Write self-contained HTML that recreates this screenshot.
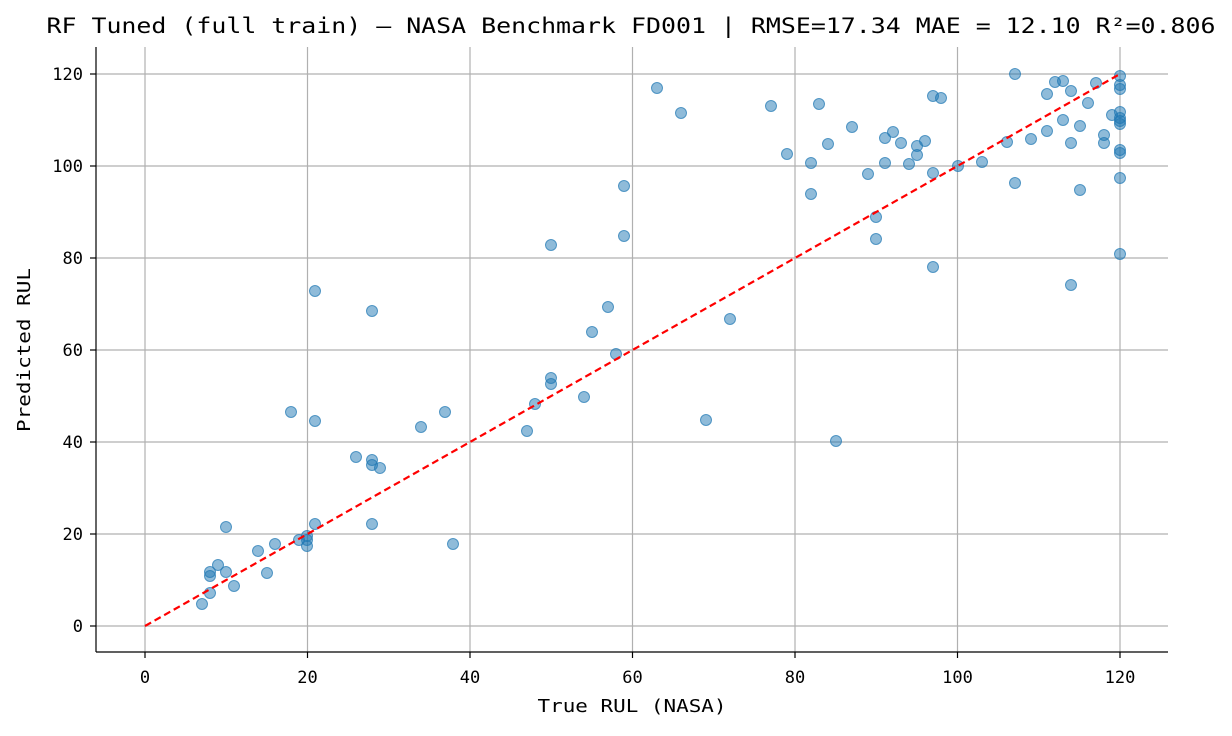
<!DOCTYPE html>
<html><head><meta charset="utf-8"><style>body{margin:0;background:#fff}</style></head><body>
<svg width="1232" height="731" xmlns="http://www.w3.org/2000/svg" font-family="'DejaVu Sans Mono','Liberation Mono',monospace">
<rect width="1232" height="731" fill="#fff"/>
<text x="631" y="33" font-size="21" text-anchor="middle" fill="#000" textLength="1169" lengthAdjust="spacingAndGlyphs">RF Tuned (full train) — NASA Benchmark FD001 | RMSE=17.34 MAE = 12.10 R²=0.806</text>
<g stroke="#b0b0b0" stroke-width="1.2">
<line x1="145" y1="47" x2="145" y2="652"/><line x1="307.5" y1="47" x2="307.5" y2="652"/><line x1="470" y1="47" x2="470" y2="652"/><line x1="632.5" y1="47" x2="632.5" y2="652"/><line x1="795" y1="47" x2="795" y2="652"/><line x1="957.5" y1="47" x2="957.5" y2="652"/><line x1="1120" y1="47" x2="1120" y2="652"/>
<line x1="96" y1="626" x2="1168" y2="626"/><line x1="96" y1="534" x2="1168" y2="534"/><line x1="96" y1="442" x2="1168" y2="442"/><line x1="96" y1="350" x2="1168" y2="350"/><line x1="96" y1="258" x2="1168" y2="258"/><line x1="96" y1="166" x2="1168" y2="166"/><line x1="96" y1="74" x2="1168" y2="74"/>
</g>
<g id="pts" fill="#1f77b4" fill-opacity="0.5" stroke="#1f77b4" stroke-width="1" stroke-opacity="0.7">
<circle cx="202" cy="604" r="5.5"/><circle cx="210" cy="572" r="5.5"/><circle cx="210" cy="576" r="5.5"/><circle cx="218" cy="565" r="5.5"/><circle cx="226" cy="572" r="5.5"/><circle cx="234" cy="586" r="5.5"/><circle cx="210" cy="593" r="5.5"/><circle cx="226" cy="527" r="5.5"/><circle cx="258" cy="551" r="5.5"/><circle cx="267" cy="573" r="5.5"/><circle cx="275" cy="544" r="5.5"/><circle cx="299" cy="540" r="5.5"/><circle cx="307" cy="536" r="5.5"/><circle cx="307" cy="540" r="5.5"/><circle cx="307" cy="546" r="5.5"/><circle cx="315" cy="524" r="5.5"/><circle cx="315" cy="291" r="5.5"/><circle cx="291" cy="412" r="5.5"/><circle cx="315" cy="421" r="5.5"/><circle cx="356" cy="457" r="5.5"/><circle cx="372" cy="460" r="5.5"/><circle cx="372" cy="465" r="5.5"/><circle cx="380" cy="468" r="5.5"/><circle cx="372" cy="524" r="5.5"/><circle cx="372" cy="311" r="5.5"/><circle cx="421" cy="427" r="5.5"/><circle cx="445" cy="412" r="5.5"/><circle cx="453" cy="544" r="5.5"/><circle cx="527" cy="431" r="5.5"/><circle cx="535" cy="404" r="5.5"/><circle cx="551" cy="378" r="5.5"/><circle cx="551" cy="384" r="5.5"/><circle cx="551" cy="245" r="5.5"/><circle cx="584" cy="397" r="5.5"/><circle cx="592" cy="332" r="5.5"/><circle cx="608" cy="307" r="5.5"/><circle cx="616" cy="354" r="5.5"/><circle cx="624" cy="186" r="5.5"/><circle cx="624" cy="236" r="5.5"/><circle cx="657" cy="88" r="5.5"/><circle cx="681" cy="113" r="5.5"/><circle cx="706" cy="420" r="5.5"/><circle cx="730" cy="319" r="5.5"/><circle cx="771" cy="106" r="5.5"/><circle cx="787" cy="154" r="5.5"/><circle cx="811" cy="163" r="5.5"/><circle cx="811" cy="194" r="5.5"/><circle cx="819" cy="104" r="5.5"/><circle cx="828" cy="144" r="5.5"/><circle cx="836" cy="441" r="5.5"/><circle cx="852" cy="127" r="5.5"/><circle cx="868" cy="174" r="5.5"/><circle cx="876" cy="217" r="5.5"/><circle cx="876" cy="239" r="5.5"/><circle cx="885" cy="138" r="5.5"/><circle cx="885" cy="163" r="5.5"/><circle cx="893" cy="132" r="5.5"/><circle cx="901" cy="143" r="5.5"/><circle cx="909" cy="164" r="5.5"/><circle cx="917" cy="146" r="5.5"/><circle cx="917" cy="155" r="5.5"/><circle cx="925" cy="141" r="5.5"/><circle cx="933" cy="96" r="5.5"/><circle cx="933" cy="173" r="5.5"/><circle cx="933" cy="267" r="5.5"/><circle cx="941" cy="98" r="5.5"/><circle cx="958" cy="166" r="5.5"/><circle cx="982" cy="162" r="5.5"/><circle cx="1007" cy="142" r="5.5"/><circle cx="1015" cy="74" r="5.5"/><circle cx="1015" cy="183" r="5.5"/><circle cx="1031" cy="139" r="5.5"/><circle cx="1047" cy="94" r="5.5"/><circle cx="1047" cy="131" r="5.5"/><circle cx="1055" cy="82" r="5.5"/><circle cx="1063" cy="81" r="5.5"/><circle cx="1063" cy="120" r="5.5"/><circle cx="1071" cy="91" r="5.5"/><circle cx="1071" cy="143" r="5.5"/><circle cx="1071" cy="285" r="5.5"/><circle cx="1080" cy="126" r="5.5"/><circle cx="1080" cy="190" r="5.5"/><circle cx="1088" cy="103" r="5.5"/><circle cx="1096" cy="83" r="5.5"/><circle cx="1104" cy="135" r="5.5"/><circle cx="1104" cy="143" r="5.5"/><circle cx="1112" cy="115" r="5.5"/><circle cx="1120" cy="76" r="5.5"/><circle cx="1120" cy="85" r="5.5"/><circle cx="1120" cy="89" r="5.5"/><circle cx="1120" cy="112" r="5.5"/><circle cx="1120" cy="118" r="5.5"/><circle cx="1120" cy="121" r="5.5"/><circle cx="1120" cy="124" r="5.5"/><circle cx="1120" cy="150" r="5.5"/><circle cx="1120" cy="153" r="5.5"/><circle cx="1120" cy="178" r="5.5"/><circle cx="1120" cy="254" r="5.5"/>
</g>
<line x1="145" y1="626" x2="1120" y2="74" stroke="#ff0000" stroke-width="2.2" stroke-dasharray="7,4"/>
<g stroke="#000" stroke-width="1.2">
<line x1="96" y1="47" x2="96" y2="652"/><line x1="96" y1="652" x2="1168" y2="652"/>
<line x1="145" y1="652" x2="145" y2="658"/><line x1="307.5" y1="652" x2="307.5" y2="658"/><line x1="470" y1="652" x2="470" y2="658"/><line x1="632.5" y1="652" x2="632.5" y2="658"/><line x1="795" y1="652" x2="795" y2="658"/><line x1="957.5" y1="652" x2="957.5" y2="658"/><line x1="1120" y1="652" x2="1120" y2="658"/>
<line x1="90" y1="626" x2="96" y2="626"/><line x1="90" y1="534" x2="96" y2="534"/><line x1="90" y1="442" x2="96" y2="442"/><line x1="90" y1="350" x2="96" y2="350"/><line x1="90" y1="258" x2="96" y2="258"/><line x1="90" y1="166" x2="96" y2="166"/><line x1="90" y1="74" x2="96" y2="74"/>
</g>
<g font-size="17" fill="#000" text-anchor="middle">
<text x="145" y="683">0</text><text x="307.5" y="683">20</text><text x="470" y="683">40</text><text x="632.5" y="683">60</text><text x="795" y="683">80</text><text x="957.5" y="683">100</text><text x="1120" y="683">120</text>
</g>
<g font-size="17" fill="#000" text-anchor="end">
<text x="83" y="632">0</text><text x="83" y="540">20</text><text x="83" y="448">40</text><text x="83" y="356">60</text><text x="83" y="264">80</text><text x="83" y="172">100</text><text x="83" y="80">120</text>
</g>
<text x="632" y="712" font-size="18" text-anchor="middle" textLength="189" lengthAdjust="spacingAndGlyphs">True RUL (NASA)</text>
<text x="30" y="350" font-size="18" text-anchor="middle" textLength="164" lengthAdjust="spacingAndGlyphs" transform="rotate(-90 30 350)">Predicted RUL</text>
</svg>
</body></html>
